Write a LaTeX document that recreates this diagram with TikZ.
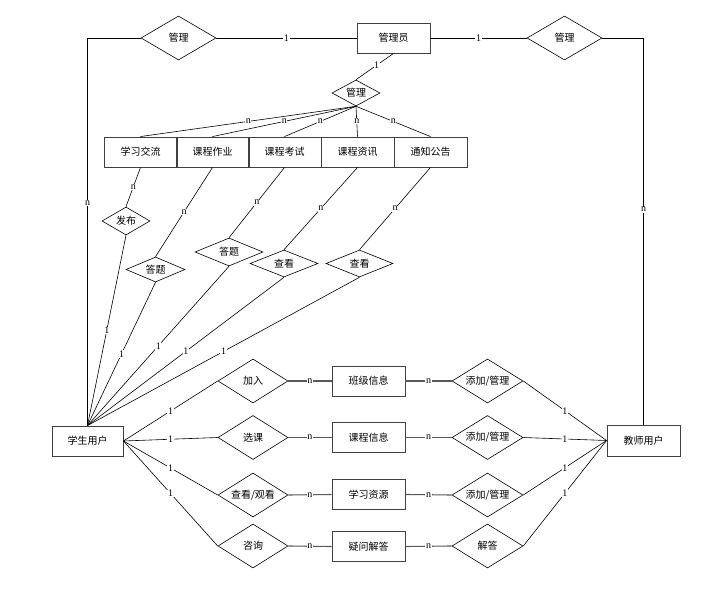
\documentclass[tikz,border=0pt]{standalone}
\usepackage{fontspec}
\setmainfont{Liberation Serif}
\newfontfamily\cjk{Noto Sans CJK SC}
\usetikzlibrary{shapes.geometric}
\begin{document}
\begin{tikzpicture}[x=1pt,y=-1pt,
  ent/.style={draw=black!75,line width=0.9pt,minimum width=73pt,minimum height=30pt,inner sep=0pt,font=\cjk\fontsize{10}{12}\selectfont},
  rel/.style 2 args={diamond,aspect=2,draw=black,line width=0.6pt,inner sep=0pt,minimum width=#1pt,minimum height=#2pt,font=\cjk\fontsize{10}{12}\selectfont},
  lnk/.style={draw=black,line width=0.6pt},
  glnk/.style={draw=black!65,line width=1.1pt},
  lab/.style={fill=white,inner sep=0.6pt,font=\fontsize{10}{11}\selectfont},
]
\useasboundingbox[fill=white] (0,0) rectangle (724,591);

% top
\node[ent] (adm) at (393.5,38) {管理员};
\node[rel={75}{44}] (mgL) at (178.5,38) {管理};
\node[rel={75}{44}] (mgR) at (564.5,38) {管理};
\node[rel={48}{26}] (mgC) at (356,93) {管理};

% module boxes
\node[ent] (b1) at (140.5,152) {学习交流};
\node[ent] (b2) at (212.5,152) {课程作业};
\node[ent] (b3) at (284.5,152) {课程考试};
\node[ent] (b4) at (357.5,152) {课程资讯};
\node[ent] (b5) at (430.5,152) {通知公告};

% small relations
\node[rel={48}{28}] (fb) at (126,221) {发布};
\node[rel={59}{25}] (dt1) at (155.5,269.5) {答题};
\node[rel={68}{28}] (dt2) at (229,252) {答题};
\node[rel={68}{27}] (ck1) at (284,263.5) {查看};
\node[rel={67}{27}] (ck2) at (359.5,263.5) {查看};

% users
\node[ent,minimum width=71pt] (stu) at (87.5,441) {学生用户};
\node[ent,minimum height=31pt] (tea) at (643.5,440.5) {教师用户};

% bottom relations (student side)
\node[rel={70}{44}] (r1) at (253,381) {加入};
\node[rel={70}{44}] (r2) at (253,437.5) {选课};
\node[rel={70}{44}] (r3) at (253,495) {查看/观看};
\node[rel={70}{44}] (r4) at (253,546) {咨询};

% middle entities
\node[ent] (e1) at (368.5,381) {班级信息};
\node[ent] (e2) at (368.5,437.5) {课程信息};
\node[ent] (e3) at (368.5,494.5) {学习资源};
\node[ent] (e4) at (368.5,546.5) {疑问解答};

% teacher side relations
\node[rel={71}{44}] (t1) at (487.5,381) {添加/管理};
\node[rel={71}{44}] (t2) at (487.5,437.5) {添加/管理};
\node[rel={71}{44}] (t3) at (487.5,495) {添加/管理};
\node[rel={71}{44}] (t4) at (487.5,546) {解答};

% top connectors
\draw[lnk] (mgL.east) -- node[lab,midway]{1} (adm.west);
\draw[lnk] (adm.east) -- node[lab,midway]{1} (mgR.west);
\draw[lnk] (mgL.west) -| node[lab,pos=0.713]{n} (stu.north);
\draw[lnk] (mgR.east) -| node[lab,pos=0.722]{n} (tea.north);
\draw[lnk] (adm.south) -- node[lab,pos=0.45]{1} (mgC.north);
\foreach \b in {b1,b2,b3,b4,b5}
  \draw[lnk] (mgC.south) -- node[lab,midway]{n} (\b.north);

% modules to small relations
\draw[lnk] (b1.south) -- node[lab,midway]{n} (fb.north);
\draw[lnk] (b2.south) -- node[lab,midway]{n} (dt1.north);
\draw[lnk] (b3.south) -- node[lab,midway]{n} (dt2.north);
\draw[lnk] (b4.south) -- node[lab,midway]{n} (ck1.north);
\draw[lnk] (b5.south) -- node[lab,midway]{n} (ck2.north);

% small relations to student
\foreach \r in {fb,dt1,dt2,ck1,ck2}
  \draw[lnk] (\r.south) -- node[lab,midway]{1} (stu.north);

% student to bottom relations
\foreach \r in {r1,r2,r3,r4}
  \draw[lnk] (stu.east) -- node[lab,midway]{1} (\r.west);

% relations to entities
\draw[glnk] (r1.east) -- node[lab,midway]{n} (e1.west);
\draw[glnk] (r2.east) -- node[lab,midway]{n} (e2.west);
\draw[glnk] (r3.east) -- node[lab,midway]{n} (e3.west);
\draw[glnk] (r4.east) -- node[lab,midway]{n} (e4.west);
\draw[glnk] (e1.east) -- node[lab,midway]{n} (t1.west);
\draw[glnk] (e2.east) -- node[lab,midway]{n} (t2.west);
\draw[glnk] (e3.east) -- node[lab,midway]{n} (t3.west);
\draw[glnk] (e4.east) -- node[lab,midway]{n} (t4.west);

% teacher side
\foreach \t in {t1,t2,t3,t4}
  \draw[lnk] (\t.east) -- node[lab,midway]{1} (tea.west);
\end{tikzpicture}
\end{document}
